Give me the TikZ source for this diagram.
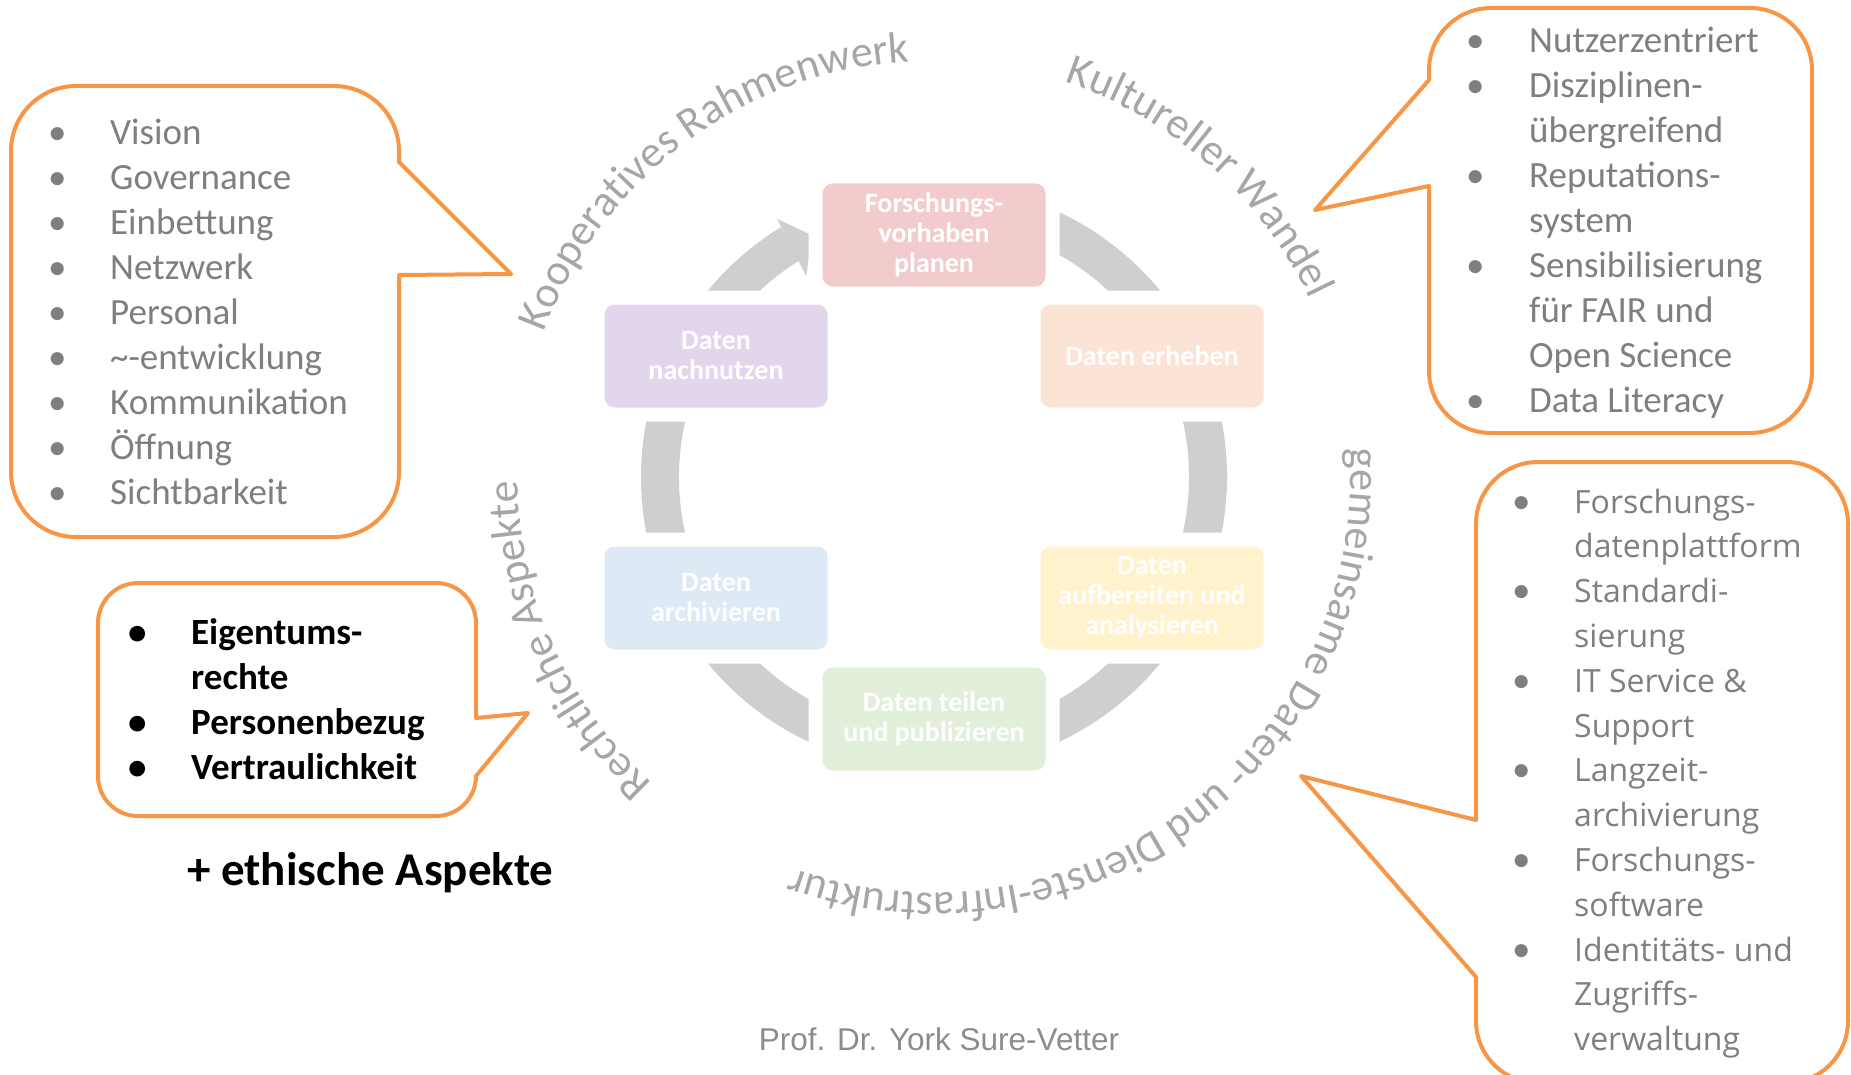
\documentclass[tikz,border=0pt]{standalone}
\usepackage{fontspec}
\usepackage{array}
\setmainfont{Carlito}
\newfontfamily\infrafont{Open Sans}
\newfontfamily\footfont{Liberation Sans}
\usetikzlibrary{decorations.text}

\definecolor{bubbleorange}{HTML}{F79646}
\definecolor{ringgray}{HTML}{CFCFCF}
\definecolor{labelgray}{HTML}{A6A6A6}
\definecolor{listgray}{HTML}{7F7F7F}
\definecolor{footgray}{HTML}{8C8C8C}
\definecolor{planfill}{HTML}{F2CBCC}
\definecolor{collectfill}{HTML}{FBE3D6}
\definecolor{analysefill}{HTML}{FFF2CC}
\definecolor{sharefill}{HTML}{E2EFDA}
\definecolor{archivefill}{HTML}{DEE9F6}
\definecolor{reusefill}{HTML}{E2D6EC}

\tikzset{
    phase/.style={rectangle, rounded corners=17pt, draw=white, line width=14pt,
        minimum width=237pt, minimum height=117pt, inner sep=0pt, align=center,
        text=white, font=\fontsize{28}{30}\selectfont\bfseries},
    bubble/.style={draw=bubbleorange, line width=4pt, line join=round},
    listtext/.style={anchor=base west, inner sep=0pt, text=listgray,
        font=\fontsize{37}{45}\selectfont},
    ringlabel/.style={decorate, decoration={text along path, text align=center,
        text={|\fontsize{44}{44}\selectfont\color{labelgray}|#1}}}
}

\begin{document}
\begin{tikzpicture}[x=1pt, y=1pt]
            \useasboundingbox (0,0) rectangle (1851,-1075);
            \clip (0,0) rectangle (1851,-1075);

            % research data life cycle
            \begin{scope}[shift={(934,-477)}]
                \draw[ringgray, line width=38pt] (121.5:274) arc[start angle=121.5, end angle=440, radius=274];
                \fill[ringgray] (121.3:302) -- (116.8:271) -- (122.45:238) -- cycle;
                \node[phase, fill=planfill] (plan) at (0,242) {Forschungs-\\vorhaben\\planen};
                \node[phase, fill=collectfill] (collect) at (218,121) {Daten erheben};
                \node[phase, fill=analysefill] (analyse) at (218,-121) {Daten\\aufbereiten und\\analysieren};
                \node[phase, fill=sharefill] (share) at (0,-242) {Daten teilen\\und publizieren};
                \node[phase, fill=archivefill] (archive) at (-218,-121) {Daten\\archivieren};
                \node[phase, fill=reusefill] (reuse) at (-218,121) {Daten\\nachnutzen};

                \path[ringlabel={Kooperatives Rahmenwerk}] (167:416) arc[start angle=167, end angle=86, radius=416];
                \path[ringlabel={Kultureller Wandel}] (77:416) arc[start angle=77, end angle=20, radius=416];
                \path[ringlabel={gemeinsame Daten- und Dienste-Infrastruktur}] (12:416) arc[start angle=12, end angle=-118, radius=416];
                \path[ringlabel={Rechtliche Aspekte}] (233:416) arc[start angle=233, end angle=175, radius=416];
            \end{scope}

            % top left bubble
            \draw[bubble] (77,-86) % top left
                -- (334,-86) arc[start angle=90, end angle=0, radius=65] % top right
                -- (399,-162)
                -- (511,-274) % tip
                -- (399,-275)
                -- (399,-472) arc[start angle=0, end angle=-90, radius=65] % bottom right
                -- (76,-537) arc[start angle=270, end angle=180, radius=65] % bottom left
                -- (11,-151) arc[start angle=180, end angle=90, radius=65]
                -- cycle;
            \node[listtext] (framework) at (48,-145) {\begin{tabular}[t]{@{}p{62pt}@{}l@{}}
                \textbullet & Vision\\
                \textbullet & Governance\\
                \textbullet & Einbettung\\
                \textbullet & Netzwerk\\
                \textbullet & Personal\\
                \textbullet & \textasciitilde-entwicklung\\
                \textbullet & Kommunikation\\
                \textbullet & Öffnung\\
                \textbullet & Sichtbarkeit
            \end{tabular}};

            % top right bubble
            \draw[bubble] (1491,-8) % top left
                -- (1750,-8) arc[start angle=90, end angle=0, radius=62] % top right
                -- (1812,-371) arc[start angle=0, end angle=-90, radius=62] % bottom right
                -- (1491,-433) arc[start angle=270, end angle=180, radius=62] % bottom left
                -- (1429,-186)
                -- (1315,-210) % tip
                -- (1429,-80)
                -- (1429,-70) arc[start angle=180, end angle=90, radius=62]
                -- cycle;
            \node[listtext] (culture) at (1466,-53) {\begin{tabular}[t]{@{}p{63pt}@{}l@{}}
                \textbullet & Nutzerzentriert\\
                \textbullet & Disziplinen-\\
                & übergreifend\\
                \textbullet & Reputations-\\
                & system\\
                \textbullet & Sensibilisierung\\
                & für FAIR und\\
                & Open Science\\
                \textbullet & Data Literacy
            \end{tabular}};

            % bottom right bubble
            \draw[bubble] (1538,-462) % top left
                -- (1786,-462) arc[start angle=90, end angle=0, radius=62] % top right
                -- (1848,-1021) arc[start angle=0, end angle=-90, radius=62] % bottom right
                -- (1538,-1083) arc[start angle=270, end angle=180, radius=62] % bottom left
                -- (1476,-977)
                -- (1301,-776) % tip
                -- (1476,-820)
                -- (1476,-524) arc[start angle=180, end angle=90, radius=62]
                -- cycle;
            \node[listtext, font=\infrafont\fontsize{32}{44.8}\selectfont] (infra) at (1512,-513) {\begin{tabular}[t]{@{}>{\rmfamily\fontsize{37}{44.8}\selectfont}p{62pt}@{}l@{}}
                \textbullet & Forschungs-\\
                & datenplattform\\
                \textbullet & Standardi-\\
                & sierung\\
                \textbullet & IT Service \&\\
                & Support\\
                \textbullet & Langzeit-\\
                & archivierung\\
                \textbullet & Forschungs-\\
                & software\\
                \textbullet & Identitäts- und\\
                & Zugriffs-\\
                & verwaltung
            \end{tabular}};

            % bottom left bubble
            \draw[bubble] (138,-583) % top left
                -- (436,-583) arc[start angle=90, end angle=0, radius=40] % top right
                -- (476,-718)
                -- (528,-713) % tip
                -- (476,-776) arc[start angle=0, end angle=-90, radius=40] % bottom right
                -- (138,-816) arc[start angle=270, end angle=180, radius=40] % bottom left
                -- (98,-623) arc[start angle=180, end angle=90, radius=40]
                -- cycle;
            \node[listtext, text=black, font=\fontsize{37}{45}\selectfont\bfseries] (legal) at (128,-644) {\begin{tabular}[t]{@{}p{63pt}@{}l@{}}
                \textbullet & Eigentums-\\
                & rechte\\
                \textbullet & Personenbezug\\
                \textbullet & Vertraulichkeit
            \end{tabular}};
            \node[anchor=base west, inner sep=0pt, font=\fontsize{47}{47}\selectfont\bfseries] (ethics) at (187,-885) {+ ethische Aspekte};

            \node[anchor=base, inner sep=0pt, text=footgray, font=\footfont\fontsize{31.5}{31.5}\selectfont] (credit) at (939,-1050) {Prof. Dr. York Sure-Vetter};
        \end{tikzpicture}
\end{document}
